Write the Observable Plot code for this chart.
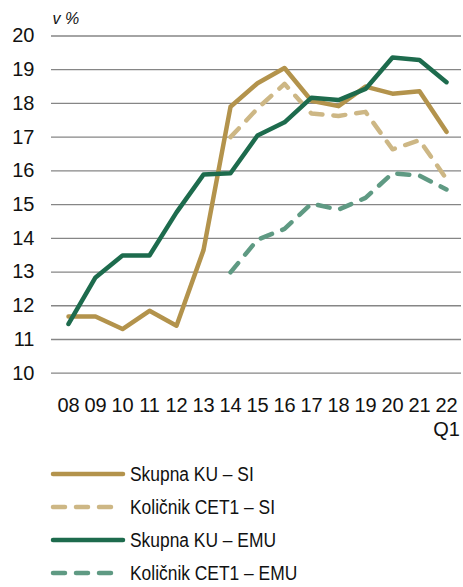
<!DOCTYPE html>
<html>
<head>
<meta charset="utf-8">
<script src="https://cdn.jsdelivr.net/npm/d3@7"></script>
<script src="https://cdn.jsdelivr.net/npm/@observablehq/plot@0.6"></script>
<style>
  html, body { margin: 0; padding: 0; background: #fff; }
  body { width: 463px; height: 587px; overflow: hidden; font-family: "Liberation Sans", Arial, sans-serif; }
  #legend { padding-top: 5.5px; }
  .row { display: flex; align-items: center; height: 33px; white-space: nowrap; }
  .row svg { margin-left: 49px; width: 78px; height: 12px; flex: none; }
  .row span { display: inline-block; margin-left: 3px; font-size: 20px; color: #111; transform: scaleX(0.87); transform-origin: left center; }
</style>
</head>
<body>
<div id="chart"></div>
<div id="legend"></div>
<script>
const years = ["08","09","10","11","12","13","14","15","16","17","18","19","20","21","22"];
const skupnaSI  = [11.68, 11.68, 11.31, 11.85, 11.41, 13.65, 17.9, 18.6, 19.05, 18.08, 17.92, 18.5, 18.29, 18.36, 17.16];
const cet1SI    = [null, null, null, null, null, null, 17.0, 17.85, 18.58, 17.7, 17.63, 17.75, 16.64, 16.91, 15.76];
const skupnaEMU = [11.46, 12.84, 13.49, 13.49, 14.77, 15.89, 15.93, 17.05, 17.44, 18.17, 18.1, 18.43, 19.36, 19.29, 18.63];
const cet1EMU   = [null, null, null, null, null, null, 12.99, 13.96, 14.28, 15.03, 14.85, 15.2, 15.93, 15.86, 15.45];
const seriesNames = ["Skupna KU – SI", "Količnik CET1 – SI", "Skupna KU – EMU", "Količnik CET1 – EMU"];
const yTicks = [10, 11, 12, 13, 14, 15, 16, 17, 18, 19, 20];
const unitLabel = "v %";
const lastTickSuffix = "Q1";

const styles = [
  {color: "#b3934c", dash: null},
  {color: "#cdb785", dash: "12,11"},
  {color: "#1d6b4d", dash: null},
  {color: "#5f9a83", dash: "12,11"}
];
const seriesValues = [skupnaSI, cet1SI, skupnaEMU, cet1EMU];

const font = '"Liberation Sans", Arial, sans-serif';

const lineMarks = seriesValues.map((vals, i) => {
  const data = years.map((y, j) => ({year: y, value: vals[j]})).filter(d => d.value != null);
  return Plot.line(data, {
    x: "year", y: "value",
    stroke: styles[i].color,
    strokeWidth: 4.5,
    strokeDasharray: styles[i].dash,
    strokeLinecap: "round",
    strokeLinejoin: "round"
  });
});

const chart = Plot.plot({
  width: 463,
  height: 452,
  marginLeft: 51,
  marginRight: 2,
  marginTop: 35.5,
  marginBottom: 79.3,
  style: {fontFamily: font, background: "#fff", overflow: "visible"},
  x: {type: "point", domain: years, padding: 0.5, range: [52, 461]},
  y: {domain: [10, 20]},
  marks: [
    Plot.gridY(yTicks, {stroke: "#868686", strokeOpacity: 1, strokeWidth: 1.3}),
    Plot.axisY(yTicks, {tickSize: 0, tickPadding: 17, fontSize: 20, label: null, fill: "#111"}),
    Plot.axisX(years, {
      tickSize: 0, tickPadding: 22, fontSize: 20, label: null, fill: "#111", lineHeight: 1.2,
      tickFormat: d => d === years[years.length - 1] ? d + "\n" + lastTickSuffix : d
    }),
    ...lineMarks,
    Plot.text([unitLabel], {frameAnchor: "top-left", dx: 1, dy: -17, lineAnchor: "middle", textAnchor: "start", fontStyle: "italic", fontSize: 16, fill: "#111"})
  ]
});
document.getElementById("chart").appendChild(chart);

const legend = document.getElementById("legend");
seriesNames.forEach((name, i) => {
  const row = document.createElement("div");
  row.className = "row";
  const dashAttr = styles[i].dash ? ` stroke-dasharray="${styles[i].dash}"` : "";
  row.innerHTML = `<svg viewBox="0 0 78 12"><line x1="4" y1="6" x2="${styles[i].dash ? 72 : 74}" y2="6" stroke="${styles[i].color}" stroke-width="4.5" stroke-linecap="round"${dashAttr}/></svg><span>${name}</span>`;
  legend.appendChild(row);
});
</script>
</body>
</html>
